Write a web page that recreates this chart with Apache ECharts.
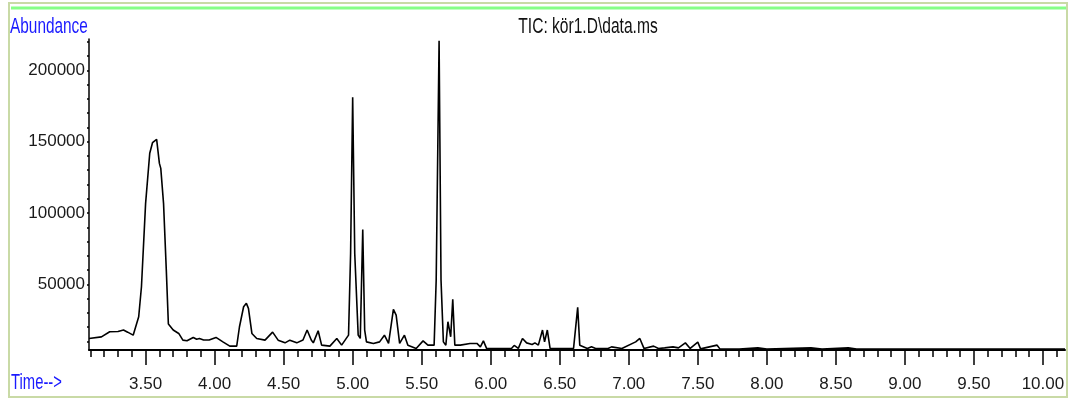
<!DOCTYPE html>
<html>
<head>
<meta charset="utf-8">
<script src="https://cdn.jsdelivr.net/npm/echarts@6/dist/echarts.min.js"></script>
<style>
html,body{margin:0;padding:0;background:#fff;}
#chart{width:1070px;height:405px;}
</style>
</head>
<body>
<div id="chart"></div>
<script>
// Retention time (min)
var times = [3.09,3.18,3.24,3.30,3.34,3.37,3.41,3.45,3.47,3.50,3.53,3.55,3.58,3.60,3.61,3.63,3.65,3.665,3.70,3.74,3.77,3.80,3.845,3.87,3.89,3.92,3.96,4.01,4.06,4.11,4.16,4.18,4.21,4.23,4.245,4.27,4.305,4.365,4.42,4.46,4.51,4.545,4.595,4.64,4.67,4.70,4.715,4.75,4.775,4.835,4.885,4.92,4.97,4.985,5.00,5.015,5.04,5.055,5.073,5.087,5.10,5.15,5.195,5.23,5.26,5.295,5.315,5.34,5.375,5.40,5.46,5.51,5.545,5.59,5.605,5.626,5.64,5.657,5.675,5.69,5.71,5.725,5.74,5.78,5.85,5.90,5.925,5.947,5.97,6.15,6.17,6.20,6.23,6.26,6.30,6.32,6.345,6.375,6.39,6.41,6.43,6.55,6.56,6.60,6.63,6.645,6.70,6.73,6.76,6.85,6.875,6.95,7.05,7.08,7.11,7.18,7.215,7.26,7.32,7.36,7.41,7.445,7.50,7.52,7.64,7.66,7.80,7.935,8.00,8.32,8.40,8.59,8.65,9.50,10.16];
// Abundance values at those times
var abundance = [12100,13200,16800,17000,18000,16500,14400,27300,48300,106800,141900,149300,151700,134800,131300,106800,60000,22200,18000,15600,10900,10500,12800,11500,12000,11000,11000,12800,9700,6700,6700,20300,34300,36700,33200,15600,12100,10900,16500,10900,9000,10900,9000,11000,18000,11000,9000,17500,7400,6700,12100,7400,14400,71700,181100,71700,14400,12100,88500,18000,9700,8600,9700,14400,8600,32500,28500,8600,14400,7400,5100,10400,7400,7400,53000,220800,53000,9700,7400,23800,13300,39500,7400,7400,8600,8600,6200,10400,5100,5100,7200,5100,12100,9000,7900,9000,7400,18000,9700,18000,5100,5100,6200,5100,33900,7400,5100,6200,5100,5100,6200,5100,9700,12100,5100,6700,5100,5500,6200,5500,9000,5100,9500,4800,7400,4800,4600,5500,4600,5500,4600,5500,4600,4600,4600];

var xMajorTicks = [3.5,4.0,4.5,5.0,5.5,6.0,6.5,7.0,7.5,8.0,8.5,9.0,9.5,10.0];
var xMinorTicks = [3.1,3.2,3.3,3.4,3.5,3.6,3.7,3.8,3.9,4.0,4.1,4.2,4.3,4.4,4.5,4.6,4.7,4.8,4.9,5.0,5.1,5.2,5.3,5.4,5.5,5.6,5.7,5.8,5.9,6.0,6.1,6.2,6.3,6.4,6.5,6.6,6.7,6.8,6.9,7.0,7.1,7.2,7.3,7.4,7.5,7.6,7.7,7.8,7.9,8.0,8.1,8.2,8.3,8.4,8.5,8.6,8.7,8.8,8.9,9.0,9.1,9.2,9.3,9.4,9.5,9.6,9.7,9.8,9.9,10.0,10.1];
var yLabelTicks = [50000,100000,150000,200000];
var yMinorTicks = [10000,20000,30000,40000,50000,60000,70000,80000,90000,100000,110000,120000,130000,140000,150000,160000,170000,180000,190000,200000,210000,220000];

var titleText = 'TIC: kör1.D\\data.ms';
var yName = 'Abundance';
var xName = 'Time-->';

var FONT = "'Liberation Sans', Arial, sans-serif";

var pts = times.map(function (t, i) { return [t, abundance[i]]; });

var chart = echarts.init(document.getElementById('chart'), null, {renderer: 'canvas'});
chart.setOption({
  animation: false,
  backgroundColor: '#ffffff',
  grid: {left: 89, top: 39, right: 5, bottom: 55, containLabel: false},
  xAxis: [{
    type: 'value', min: 3.09, max: 10.16,
    axisLine: {show: true, onZero: false, lineStyle: {color: '#000', width: 2}},
    axisTick: {show: true, customValues: xMajorTicks, length: 15, inside: false, lineStyle: {color: '#000', width: 1.5}},
    axisLabel: {show: true, customValues: xMajorTicks, margin: 26, color: '#1a1a1a', fontSize: 17, fontFamily: FONT,
      formatter: function (v) { return v.toFixed(2); }},
    splitLine: {show: false}
  }, {
    type: 'value', min: 3.09, max: 10.16, position: 'bottom',
    axisLine: {show: false, onZero: false},
    axisTick: {show: true, customValues: xMinorTicks, length: 7, inside: false, lineStyle: {color: '#000', width: 1.5}},
    axisLabel: {show: false},
    splitLine: {show: false}
  }],
  yAxis: {
    type: 'value', min: 4000, max: 222000,
    axisLine: {show: true, onZero: false, lineStyle: {color: '#000', width: 1.5}},
    axisTick: {show: true, customValues: yMinorTicks, length: 2, inside: false, lineStyle: {color: '#000', width: 1.5}},
    axisLabel: {show: true, customValues: yLabelTicks, margin: 4, color: '#1a1a1a', fontSize: 17, fontFamily: FONT,
      formatter: function (v) { return String(v); }},
    splitLine: {show: false}
  },
  series: [{
    type: 'line', xAxisIndex: 0, data: pts, showSymbol: false, symbol: 'none',
    lineStyle: {color: '#000', width: 1.6}, clip: true
  }],
  graphic: [
    {type: 'rect', shape: {x: 9, y: 3, width: 1058, height: 394}, style: {fill: null, stroke: '#c9daa6', lineWidth: 2}, silent: true},
    {type: 'line', shape: {x1: 11, y1: 8, x2: 1066, y2: 8}, style: {stroke: '#86ff86', lineWidth: 3}, silent: true},
    {type: 'text', x: 10, y: 27, scaleX: 0.81, scaleY: 1.12,
      style: {text: yName, fill: '#1a1aff', font: '19px ' + FONT, verticalAlign: 'middle'}},
    {type: 'text', x: 11, y: 383, scaleX: 0.78, scaleY: 1.12,
      style: {text: xName, fill: '#1a1aff', font: '19px ' + FONT, verticalAlign: 'middle'}},
    {type: 'text', x: 588, y: 27, scaleX: 0.82, scaleY: 1.12,
      style: {text: titleText, fill: '#111', font: '19px ' + FONT, align: 'center', verticalAlign: 'middle'}}
  ]
});
</script>
</body>
</html>
